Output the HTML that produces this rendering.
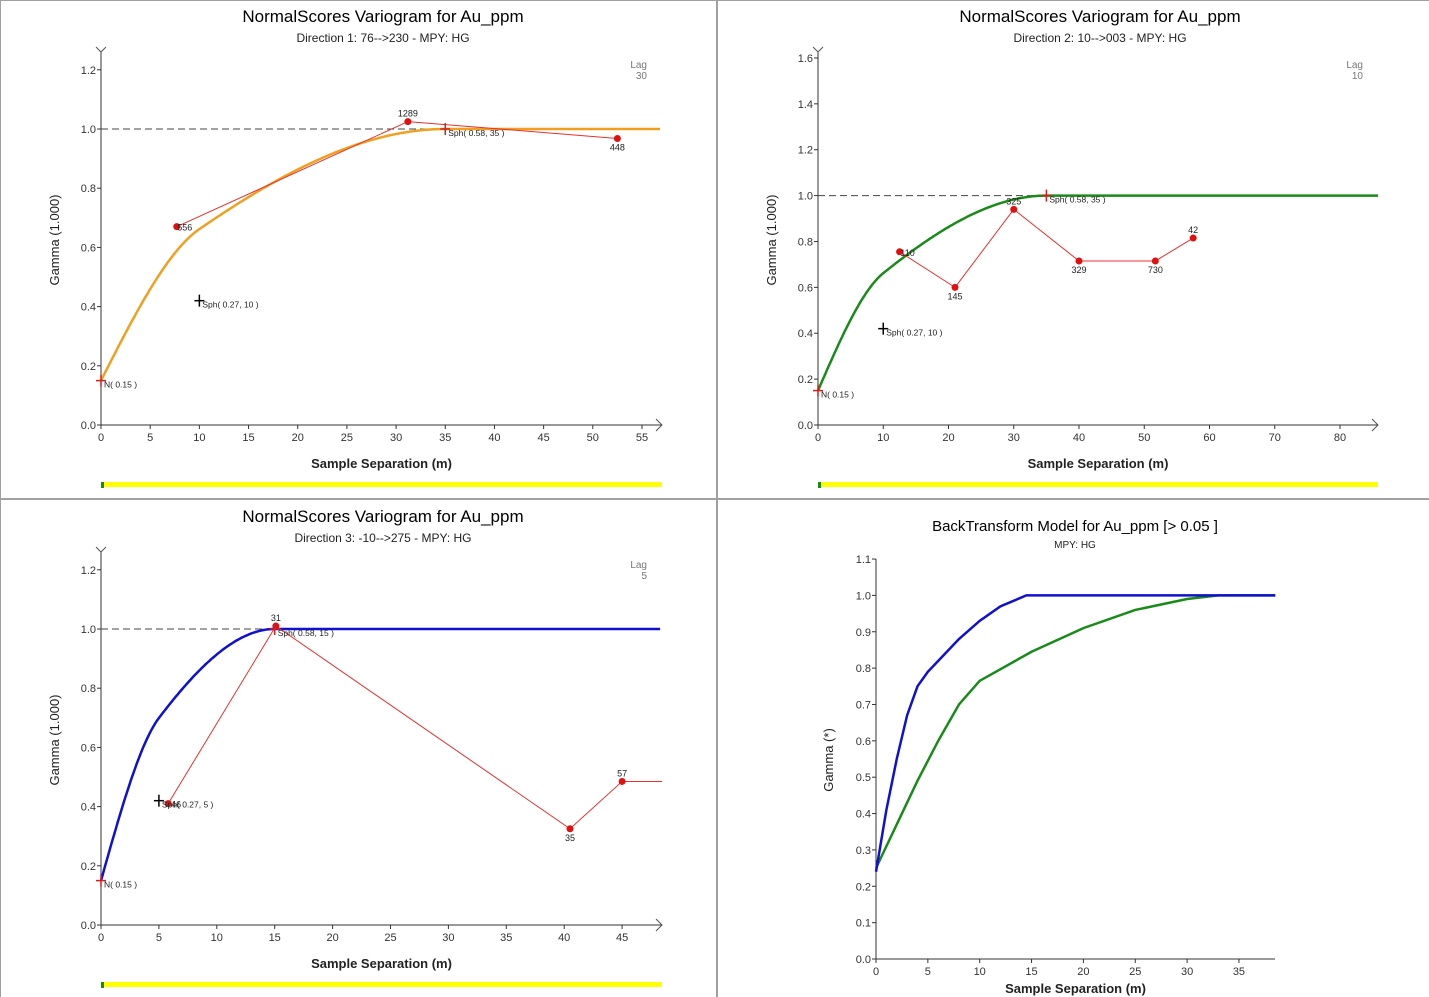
<!DOCTYPE html>
<html><head><meta charset="utf-8">
<style>
html,body{margin:0;padding:0;background:#fff;}
svg{display:block;font-family:"Liberation Sans",sans-serif;}
</style></head>
<body>
<svg id="s" width="1429" height="997" viewBox="0 0 1429 997" xmlns="http://www.w3.org/2000/svg">
<rect x="0" y="0" width="1429" height="997" fill="#fff"/>
<line x1="717" y1="0" x2="717" y2="997" stroke="#a0a0a0" stroke-width="2"/>
<line x1="0" y1="499" x2="1429" y2="499" stroke="#a0a0a0" stroke-width="2"/>
<line x1="0.5" y1="0" x2="0.5" y2="997" stroke="#a0a0a0"/>
<line x1="0" y1="0.5" x2="1429" y2="0.5" stroke="#a0a0a0"/>
</svg>
<script>
// Panel 1 data
const p1LagX = [7.7, 31.2, 52.5];
const p1LagY = [0.67, 1.025, 0.968];
const p1Pairs = ['556', '1289', '448'];
const p1XTicks = [0,5,10,15,20,25,30,35,40,45,50,55];
const p1YTicks = [0,0.2,0.4,0.6,0.8,1.0,1.2];
// Panel 2 data
const p2LagX = [12.5, 21, 30, 40, 51.7, 57.5];
const p2LagY = [0.755, 0.6, 0.94, 0.715, 0.715, 0.815];
const p2Pairs = ['110', '145', '325', '329', '730', '42'];
const p2XTicks = [0,10,20,30,40,50,60,70,80];
const p2YTicks = [0,0.2,0.4,0.6,0.8,1.0,1.2,1.4,1.6];
// Panel 3 data
const p3LagX = [5.8, 15.1, 40.5, 45];
const p3LagY = [0.41, 1.01, 0.325, 0.485];
const p3Pairs = ['46', '31', '35', '57'];
const p3XTicks = [0,5,10,15,20,25,30,35,40,45];
const p3YTicks = [0,0.2,0.4,0.6,0.8,1.0,1.2];
// Model structures: nugget, sph1 (sill, range), sph2 (sill, range)
const nugget = 0.15;
const sph1Sill = 0.27;
const sph2Sill = 0.58;
const p1Ranges = [10, 35];
const p2Ranges = [10, 35];
const p3Ranges = [5, 15];
// Panel 4 back-transform model curves
const p4BlueX = [0,1,2,3,4,5,6,8,10,12,14.5,38.5];
const p4BlueY = [0.24,0.41,0.55,0.67,0.75,0.79,0.82,0.88,0.93,0.97,1.0,1.0];
const p4GreenX = [0,2,4,6,8,10,15,20,25,30,33,38.5];
const p4GreenY = [0.25,0.37,0.49,0.60,0.70,0.765,0.845,0.91,0.96,0.99,1.0,1.0];
const p4XTicks = [0,5,10,15,20,25,30,35];
const p4YTicks = [0,0.1,0.2,0.3,0.4,0.5,0.6,0.7,0.8,0.9,1.0,1.1];

const svg = document.getElementById('s');
const NS = 'http://www.w3.org/2000/svg';
function mk(tag, attrs, text){
  const e = document.createElementNS(NS, tag);
  for (const k in attrs) e.setAttribute(k, attrs[k]);
  if (text !== undefined) e.textContent = text;
  svg.appendChild(e);
  return e;
}
function sph(h, a){ if (h >= a) return 1; const r = h/a; return 1.5*r - 0.5*r*r*r; }

function panel(cfg){
  const X = v => cfg.x0 + (v - 0) * cfg.sx;
  const Y = v => cfg.y0 - v * cfg.sy;
  // titles
  let t = mk('text', {x: cfg.tx, y: cfg.ty, 'text-anchor':'middle', 'font-size': cfg.tsize, fill:'#000'}, cfg.title);
  
  
  t = mk('text', {x: cfg.tx, y: cfg.ty + cfg.sdy, 'text-anchor':'middle', 'font-size': cfg.ssize, fill:'#222'}, cfg.sub);
  
  
  // axes
  let a = mk('line', {x1: cfg.x0, y1: cfg.y0, x2: cfg.xEnd, y2: cfg.y0, stroke:'#333', 'stroke-width':1});
  
  
  a = mk('line', {x1: cfg.x0, y1: cfg.y0, x2: cfg.x0, y2: cfg.yTop, stroke:'#333', 'stroke-width':1});
  
  
  if (cfg.arrows){
    mk('polyline', {points: `${cfg.xEnd-6},${cfg.y0-6} ${cfg.xEnd},${cfg.y0} ${cfg.xEnd-6},${cfg.y0+6}`, fill:'none', stroke:'#555'});
    mk('polyline', {points: `${cfg.x0-5},${cfg.yTop-5} ${cfg.x0},${cfg.yTop} ${cfg.x0+5},${cfg.yTop-5}`, fill:'none', stroke:'#555'});
  }
  cfg.xt.forEach(v => {
    mk('line', {x1: X(v), y1: cfg.y0, x2: X(v), y2: cfg.y0+4, stroke:'#333'});
    const e = mk('text', {x: X(v), y: cfg.y0+16, 'text-anchor':'middle', 'font-size':11, fill:'#333'}, String(v));
    
    
  });
  cfg.yt.forEach(v => {
    mk('line', {x1: cfg.x0-4, y1: Y(v), x2: cfg.x0, y2: Y(v), stroke:'#333'});
    const e = mk('text', {x: cfg.x0-5, y: Y(v)+4, 'text-anchor':'end', 'font-size':11, fill:'#333'}, v.toFixed(1));
    
    
  });
  t = mk('text', {x: (cfg.x0+cfg.xEnd)/2, y: cfg.xlabY, 'text-anchor':'middle', 'font-size':13, 'font-weight':'bold', fill:'#222'}, 'Sample Separation (m)');
  
  
  t = mk('text', {x: cfg.ylabX, y: cfg.ylabY, 'text-anchor':'middle', 'font-size':13, fill:'#222', transform:`rotate(-90 ${cfg.ylabX} ${cfg.ylabY})`}, cfg.ylab);
  
  
  return {X, Y};
}

function variogramPanel(cfg, lagX, lagY, pairs, ranges, color, tailX){
  const {X, Y} = panel(cfg);
  // lag label
  let t = mk('text', {x: cfg.x0 + (cfg.xEnd-cfg.x0) - 15, y: 68, 'text-anchor':'end', 'font-size':10, fill:'#777'}, 'Lag');
  t.setAttribute('y', cfg.y0 - 360 + 68 - 65 + 65);
  
  
  t = mk('text', {x: cfg.xEnd - 15 + 0, y: cfg.lagY + 11, 'text-anchor':'end', 'font-size':10, fill:'#777'}, cfg.lag);
  
  
  svg.lastChild.previousSibling.setAttribute('y', cfg.lagY);
  // sill dashed
  let d = mk('line', {x1: cfg.x0, y1: Y(1), x2: X(35 < ranges[1] ? ranges[1] : ranges[1]), y2: Y(1), stroke:'#444', 'stroke-dasharray':'7,4'});
  
  
  // model
  const maxX = (cfg.xEnd - cfg.x0)/cfg.sx;
  let pts = [];
  for (let h = 0; h <= maxX; h += maxX/300){
    const g = nugget + sph1Sill*sph(h, ranges[0]) + sph2Sill*sph(h, ranges[1]);
    pts.push(X(h).toFixed(1)+','+Y(h===0?nugget:g).toFixed(1));
  }
  const m = mk('polyline', {points: pts.join(' '), fill:'none', stroke: color, 'stroke-width':2.5});
  
  
  // experimental
  let ep = lagX.map((v,i) => X(v)+','+Y(lagY[i]));
  if (tailX) ep.push(cfg.xEnd+','+Y(lagY[lagY.length-1]));
  const el = mk('polyline', {points: ep.join(' '), fill:'none', stroke:'#e83030', 'stroke-width':1});
  
  
  lagX.forEach((v,i) => {
    const c = mk('circle', {cx: X(v), cy: Y(lagY[i]), r: 3.5, fill:'#e01010'});
    
    
    const above = i > 0 && lagY[i] > lagY[i-1] && (i === lagY.length-1 || lagY[i] > lagY[i+1]);
    const tl = mk('text', {x: X(v) + (i===0?8:0), y: above ? Y(lagY[i]) - 5 : Y(lagY[i]) + (i===0?4:12), 'text-anchor':'middle', 'font-size':9, fill:'#222'}, pairs[i]);
    
    
  });
  // structure markers
  function marker(xv, yv, color2, label){
    mk('line', {x1: X(xv)-5, y1: Y(yv), x2: X(xv)+5, y2: Y(yv), stroke: color2, 'stroke-width':1.5});
    mk('line', {x1: X(xv), y1: Y(yv)-6, x2: X(xv), y2: Y(yv)+6, stroke: color2, 'stroke-width':1.5});
    const e = mk('text', {x: X(xv)+3, y: Y(yv)+7, 'font-size':8.5, fill:'#222'}, label);
    
    
  }
  marker(0, nugget, '#d02020', 'N( 0.15 )');
  marker(ranges[0], nugget + sph1Sill, '#000', `Sph( 0.27, ${ranges[0]} )`);
  marker(ranges[1], 1.0, '#d02020', `Sph( 0.58, ${ranges[1]} )`);
  // progress bar
  const b = mk('rect', {x: cfg.x0, y: cfg.barY, width: cfg.xEnd - cfg.x0, height: 5, fill:'#ffff00'});
  
  
  mk('rect', {x: cfg.x0, y: cfg.barY, width: 3, height: 6, fill:'#1a8a1a'});
}

variogramPanel({x0:101, y0:425, sx:9.836, sy:296, xEnd:662, yTop:52, arrows:true, xt:p1XTicks, yt:p1YTicks,
  title:'NormalScores  Variogram for Au_ppm', sub:'Direction 1: 76-->230 - MPY: HG', tx:383, ty:22, sdy:20, tsize:17, ssize:12,
  xlabY:468, ylabX:59, ylabY:240, ylab:'Gamma (1.000)', lag:'30', lagY:68, barY:482}, p1LagX, p1LagY, p1Pairs, p1Ranges, '#f0a020', false);

variogramPanel({x0:818, y0:425, sx:6.525, sy:229.4, xEnd:1378, yTop:52, arrows:true, xt:p2XTicks, yt:p2YTicks,
  title:'NormalScores  Variogram for Au_ppm', sub:'Direction 2: 10-->003 - MPY: HG', tx:1100, ty:22, sdy:20, tsize:17, ssize:12,
  xlabY:468, ylabX:776, ylabY:240, ylab:'Gamma (1.000)', lag:'10', lagY:68, barY:482}, p2LagX, p2LagY, p2Pairs, p2Ranges, '#1a8a1a', false);

variogramPanel({x0:101, y0:925, sx:11.58, sy:296, xEnd:662, yTop:552, arrows:true, xt:p3XTicks, yt:p3YTicks,
  title:'NormalScores  Variogram for Au_ppm', sub:'Direction 3: -10-->275 - MPY: HG', tx:383, ty:522, sdy:20, tsize:17, ssize:12,
  xlabY:968, ylabX:59, ylabY:740, ylab:'Gamma (1.000)', lag:'5', lagY:568, barY:982}, p3LagX, p3LagY, p3Pairs, p3Ranges, '#1010d0', true);

(function(){
  const cfg = {x0:876, y0:959, sx:10.37, sy:363.6, xEnd:1275, yTop:559, arrows:false, xt:p4XTicks, yt:p4YTicks,
    title:'BackTransform Model for Au_ppm [> 0.05 ]', sub:'MPY: HG', tx:1075, ty:531, sdy:17, tsize:15, ssize:10,
    xlabY:993, ylabX:833, ylabY:760, ylab:'Gamma (*)'};
  const {X, Y} = panel(cfg);
  const g = mk('polyline', {points: p4GreenX.map((v,i)=>X(v)+','+Y(p4GreenY[i])).join(' '), fill:'none', stroke:'#1a8a1a', 'stroke-width':2.5});
  
  
  const b = mk('polyline', {points: p4BlueX.map((v,i)=>X(v)+','+Y(p4BlueY[i])).join(' '), fill:'none', stroke:'#1010d0', 'stroke-width':2.5});
  
  
})();
</script>
</body></html>
